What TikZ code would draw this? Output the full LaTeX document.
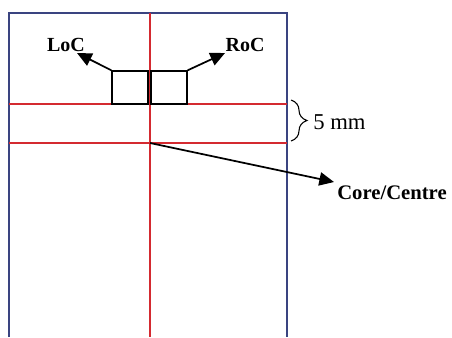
\documentclass[tikz,border=0pt]{standalone}
\usepackage{fontspec}
\setmainfont{Liberation Serif}
\usetikzlibrary{arrows.meta,decorations.pathreplacing}

\definecolor{frameblue}{RGB}{58,68,128}
\definecolor{linered}{RGB}{212,42,48}

\tikzset{
  cell/.style={draw,line width=1.1pt,minimum width=27pt,minimum height=24.75pt,inner sep=0pt},
  tag/.style={font=\fontsize{15}{18}\selectfont\bfseries,inner sep=0pt},
  pointer/.style={-{Triangle[length=11pt,width=10pt]},line width=1.3pt}
}

\begin{document}
\begin{tikzpicture}[x=0.75pt,y=-0.75pt]
\useasboundingbox (0,0) rectangle (452,337);

% outline
\draw[frameblue,line width=1pt] (9,337) -- (9,13) -- (287,13) -- (287,337);

% centre lines
\draw[linered,line width=1pt] (150,13) -- (150,337)
      (9,104) -- (287,104)
      (9,143) -- (287,143);

% left and right boxes
\node[cell] (lbox) at (130,87.5) {};
\node[cell] (rbox) at (169,87.5) {};

\node[tag] (loc) at (66,45) {LoC};
\node[tag] (roc) at (245,45) {RoC};
\coordinate (loctip) at (77,53);
\coordinate (roctip) at (225,53);
\draw[pointer] (lbox.north west) -- (loctip);
\draw[pointer] (rbox.north east) -- (roctip);

% core
\coordinate (core) at (150,143);
\coordinate (coretip) at (334,182);
\node[tag,font=\fontsize{15.5}{18}\selectfont\bfseries,anchor=west] (centre) at (337,193) {Core/Centre};
\draw[pointer] (core) -- (coretip);

% gap
\coordinate (gaptop) at (291,100);
\coordinate (gapbot) at (291,141);
\draw[line width=0.8pt,decorate,decoration={brace,amplitude=12pt}] (gaptop) -- (gapbot);
\node[font=\fontsize{17}{20}\selectfont,inner sep=0pt,anchor=west] (gap) at (313,122) {5 mm};

\end{tikzpicture}
\end{document}
